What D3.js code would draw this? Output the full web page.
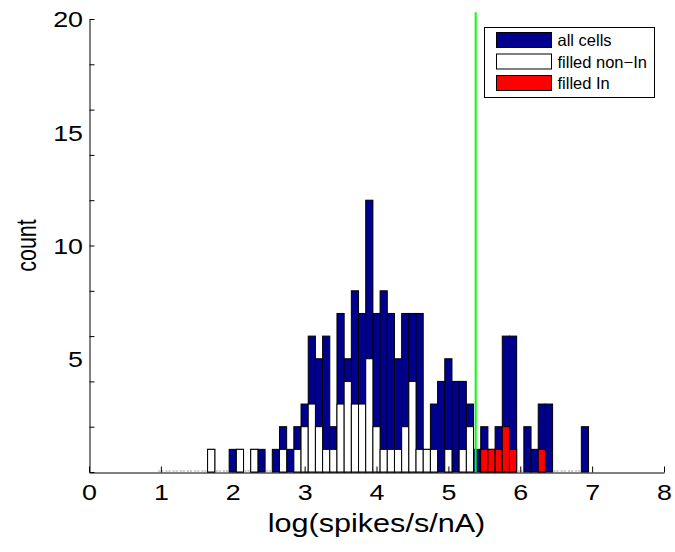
<!DOCTYPE html>
<html>
<head>
<meta charset="utf-8">
<script src="https://cdnjs.cloudflare.com/ajax/libs/d3/7.8.5/d3.min.js"></script>
<style>
  body { margin: 0; background: #fff; }
  text { font-family: "Liberation Sans", Arial, Helvetica, sans-serif; fill: #000; }
</style>
</head>
<body>
<svg id="chart" width="675" height="552"></svg>
<script>
// histogram bins (centres, width 0.1) of log(spikes/s/nA)
const binCenters = [1.0, 1.1, 1.2, 1.3, 1.4, 1.5, 1.6, 1.7, 1.8, 1.9,
  2.0, 2.1, 2.2, 2.3, 2.4, 2.5, 2.6, 2.7, 2.8, 2.9,
  3.0, 3.1, 3.2, 3.3, 3.4, 3.5, 3.6, 3.7, 3.8, 3.9,
  4.0, 4.1, 4.2, 4.3, 4.4, 4.5, 4.6, 4.7, 4.8, 4.9,
  5.0, 5.1, 5.2, 5.3, 5.4, 5.5, 5.6, 5.7, 5.8, 5.9,
  6.0, 6.1, 6.2, 6.3, 6.4, 6.5, 6.6, 6.7, 6.8, 6.9];
const binWidth = 0.1;

const allCells = [0, 0, 0, 0, 0, 0, 0, 1, 0, 0,
  1, 1, 0, 1, 1, 0, 1, 2, 1, 2,
  3, 6, 5, 6, 2, 7, 5, 8, 7, 12,
  7, 8, 7, 5, 7, 7, 7, 1, 3, 4,
  5, 4, 4, 3, 1, 2, 1, 2, 6, 6,
  0, 2, 1, 3, 3, 0, 0, 0, 0, 2];
const filledNonIn = [0, 0, 0, 0, 0, 0, 0, 1, 0, 0,
  0, 1, 0, 1, 0, 0, 0, 1, 0, 1,
  2, 3, 2, 1, 1, 3, 4, 3, 3, 5,
  2, 1, 1, 1, 2, 4, 1, 1, 1, 0,
  1, 0, 1, 2, 0, 0, 0, 0, 0, 0,
  0, 0, 0, 0, 0, 0, 0, 0, 0, 0];
const filledIn = [0, 0, 0, 0, 0, 0, 0, 0, 0, 0,
  0, 0, 0, 0, 0, 0, 0, 0, 0, 0,
  0, 0, 0, 0, 0, 0, 0, 0, 0, 0,
  0, 0, 0, 0, 0, 0, 0, 0, 0, 0,
  0, 0, 0, 0, 0, 1, 1, 1, 2, 1,
  0, 0, 0, 1, 0, 0, 0, 0, 0, 0];

const threshold = 5.38;

const seriesNames = ['all cells', 'filled non\u2212In', 'filled In'];
const seriesColors = ['#00008f', '#ffffff', '#ff0000'];

const xTicks = [0, 1, 2, 3, 4, 5, 6, 7, 8];
const yTickMarks = [0, 2, 4, 6, 8, 10, 12, 14, 16, 18, 20];
const yTickLabels = [5, 10, 15, 20];

const svg = d3.select('#chart');

const x = d3.scaleLinear().domain([0, 8]).range([89, 664]);
const y = d3.scaleLinear().domain([0, 20]).range([472, 19]);

// bars: all cells first, then filled groups on top
const series = [allCells, filledNonIn, filledIn];
series.forEach((counts, s) => {
  const data = binCenters.map((c, i) => ({ c, n: counts[i] })).filter((d) => d.n > 0);
  svg.append('g')
    .selectAll('rect')
    .data(data)
    .join('rect')
      .attr('x', (d) => x(d.c - binWidth / 2))
      .attr('width', (d) => x(d.c + binWidth / 2) - x(d.c - binWidth / 2))
      .attr('y', (d) => y(d.n))
      .attr('height', (d) => y(0) - y(d.n))
      .attr('fill', seriesColors[s])
      .attr('stroke', '#000')
      .attr('stroke-width', 1);
});

// empty bins show as faint dashes on the baseline
svg.append('g')
  .selectAll('line')
  .data(binCenters.filter((c, i) => allCells[i] === 0))
  .join('line')
    .attr('x1', (c) => x(c - binWidth / 2) + 1)
    .attr('x2', (c) => x(c + binWidth / 2) - 1)
    .attr('y1', y(0) - 1)
    .attr('y2', y(0) - 1)
    .attr('stroke', '#999')
    .attr('stroke-dasharray', '2,1');

// threshold line
svg.append('line')
  .attr('x1', x(threshold)).attr('x2', x(threshold))
  .attr('y1', y(20.3)).attr('y2', y(0))
  .attr('stroke', '#00ff00')
  .attr('stroke-width', 2);

// axes: tick marks point inward, labels drawn by separate axes
const tickText = (g) => g.selectAll('text')
  .attr('font-size', 22)
  .attr('fill', '#000')
  .attr('dy', '0.36em')
  .attr('transform', 'scale(1.22,1)');

svg.append('g')
  .attr('transform', `translate(${x(0) + 0.5},0)`)
  .call(d3.axisRight(y).tickValues(yTickMarks).tickSize(5).tickSizeOuter(0).tickFormat(''))
  .call((g) => g.selectAll('line,path').attr('stroke', '#000'));

svg.append('g')
  .attr('transform', `translate(${x(0) - 6},0)`)
  .call(d3.axisLeft(y).tickValues(yTickLabels).tickSize(0).tickPadding(0))
  .call((g) => g.select('.domain').remove())
  .call(tickText)
  .call((g) => g.selectAll('text').attr('x', 0).attr('text-anchor', 'end'));

svg.append('g')
  .attr('transform', `translate(0,${y(0) + 0.5})`)
  .call(d3.axisTop(x).tickValues(xTicks).tickSize(6).tickSizeOuter(0).tickFormat(''))
  .call((g) => g.selectAll('line,path').attr('stroke', '#000'));

svg.append('g')
  .attr('transform', `translate(0,${y(0) + 20})`)
  .call(d3.axisBottom(x).tickValues(xTicks).tickSize(0).tickPadding(0))
  .call((g) => g.select('.domain').remove())
  .call(tickText)
  .call((g) => g.selectAll('text').attr('y', 0).attr('x', 0).attr('text-anchor', 'middle'));

svg.append('text')
  .attr('transform', `translate(${x(4)},532) scale(1.2,1)`)
  .attr('text-anchor', 'middle')
  .attr('font-size', 25.5)
  .text('log(spikes/s/nA)');

svg.append('text')
  .attr('transform', `translate(36,${(y(0) + y(20)) / 2}) scale(1.3,1) rotate(-90)`)
  .attr('text-anchor', 'middle')
  .attr('font-size', 21.5)
  .text('count');

// legend
const legend = svg.append('g').attr('transform', 'translate(484.5,27.5)');
legend.append('rect')
  .attr('width', 170).attr('height', 70)
  .attr('fill', '#fff').attr('stroke', '#000').attr('stroke-width', 1);
const rows = legend.selectAll('g.row')
  .data(seriesNames)
  .join('g')
    .attr('class', 'row')
    .attr('transform', (d, i) => `translate(12,${5 + i * 21.5})`);
rows.append('rect')
  .attr('width', 55).attr('height', 15)
  .attr('fill', (d, i) => seriesColors[i])
  .attr('stroke', '#000');
rows.append('text')
  .attr('x', 61).attr('y', 8)
  .attr('dy', '0.35em')
  .attr('font-size', 16.5)
  .text((d) => d);
</script>
</body>
</html>
